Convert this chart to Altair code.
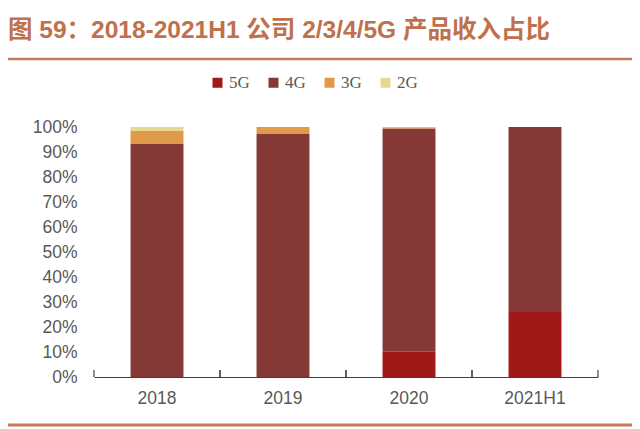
import altair as alt
import pandas as pd

# 数据
years = ['2018', '2019', '2020', '2021H1']
share_5g = [0.0, 0.0, 0.101, 0.26]
share_4g = [0.934, 0.974, 0.893, 0.74]
share_3g = [0.050, 0.026, 0.005, 0.0]
share_2g = [0.016, 0.0, 0.001, 0.0]

gens = ['5G', '4G', '3G', '2G']
colors = ['#A01818', '#843937', '#E09A4A', '#E6D88E']

rows = []
for i, y in enumerate(years):
    for k, (g, s) in enumerate(zip(gens, [share_5g, share_4g, share_3g, share_2g])):
        rows.append({'year': y, 'gen': g, 'share': s[i], 'order': k})
source = pd.DataFrame(rows)

W, H = 504, 250
xscale = alt.Scale(domain=years, paddingInner=0, paddingOuter=0)
deco = '#C8785A'

# 堆积柱
bars = alt.Chart(source).mark_bar(width=alt.RelativeBandSize(0.42)).encode(
    x=alt.X('year:N', scale=xscale, sort=years, title=None,
            axis=alt.Axis(labelAngle=0, ticks=False, labelPadding=12,
                          labelFontSize=17.5, labelColor='#595959',
                          domainColor='#404040', domainWidth=1.2,
                          labelFont='Liberation Sans')),
    y=alt.Y('share:Q', stack='zero', scale=alt.Scale(domain=[0, 1], nice=False),
            title=None,
            axis=alt.Axis(format='%', values=[i / 10 for i in range(11)],
                          domain=False, ticks=False, grid=False,
                          labelPadding=17, labelFontSize=17.5,
                          labelColor='#595959', labelFont='Liberation Sans')),
    color=alt.Color('gen:N', scale=alt.Scale(domain=gens, range=colors),
                    legend=alt.Legend(title=None, orient='none', direction='horizontal',
                                      columns=4, legendX=115, legendY=-53,
                                      symbolType='square', symbolSize=100,
                                      symbolStrokeWidth=0, labelFontSize=17,
                                      labelFont='Liberation Serif',
                                      labelColor='#595959', labelOffset=3,
                                      columnPadding=15)),
    order=alt.Order('order:Q'),
)

# x轴刻度 (向上)
tick_base = alt.Chart(pd.DataFrame({'year': years}))
ticks_l = tick_base.mark_rule(color='#404040', strokeWidth=1.2).encode(
    x=alt.X('year:N', scale=xscale, sort=years, bandPosition=0),
    y=alt.value(H - 7), y2=alt.value(H),
)
ticks_r = tick_base.mark_rule(color='#404040', strokeWidth=1.2).encode(
    x=alt.X('year:N', scale=xscale, sort=years, bandPosition=1),
    y=alt.value(H - 7), y2=alt.value(H),
)

# 装饰线
top_line = alt.Chart(pd.DataFrame({'a': [0]})).mark_rule(color=deco, strokeWidth=2.5).encode(
    x=alt.value(-86), x2=alt.value(W + 34), y=alt.value(-68),
)
bottom_line = alt.Chart(pd.DataFrame({'a': [0]})).mark_rule(color=deco, strokeWidth=3).encode(
    x=alt.value(-86), x2=alt.value(W + 34), y=alt.value(298),
)

chart = alt.layer(bars, ticks_l, ticks_r, top_line, bottom_line).properties(
    width=W, height=H,
    autosize=alt.AutoSizeParams(type='none'),
    padding={'left': 86, 'top': 119, 'right': 34, 'bottom': 52},
    title=alt.TitleParams('图 59：2018-2021H1 公司 2/3/4/5G 产品收入占比',
                          anchor='start', frame='group', dx=-86, offset=14,
                          fontSize=24.5, fontWeight='bold', color='#C0704A',
                          font='Liberation Sans, Noto Sans CJK SC'),
).configure_view(stroke=None).resolve_scale(x='shared')

chart.save('out.html', embed_options={'renderer': 'svg', 'actions': False})
